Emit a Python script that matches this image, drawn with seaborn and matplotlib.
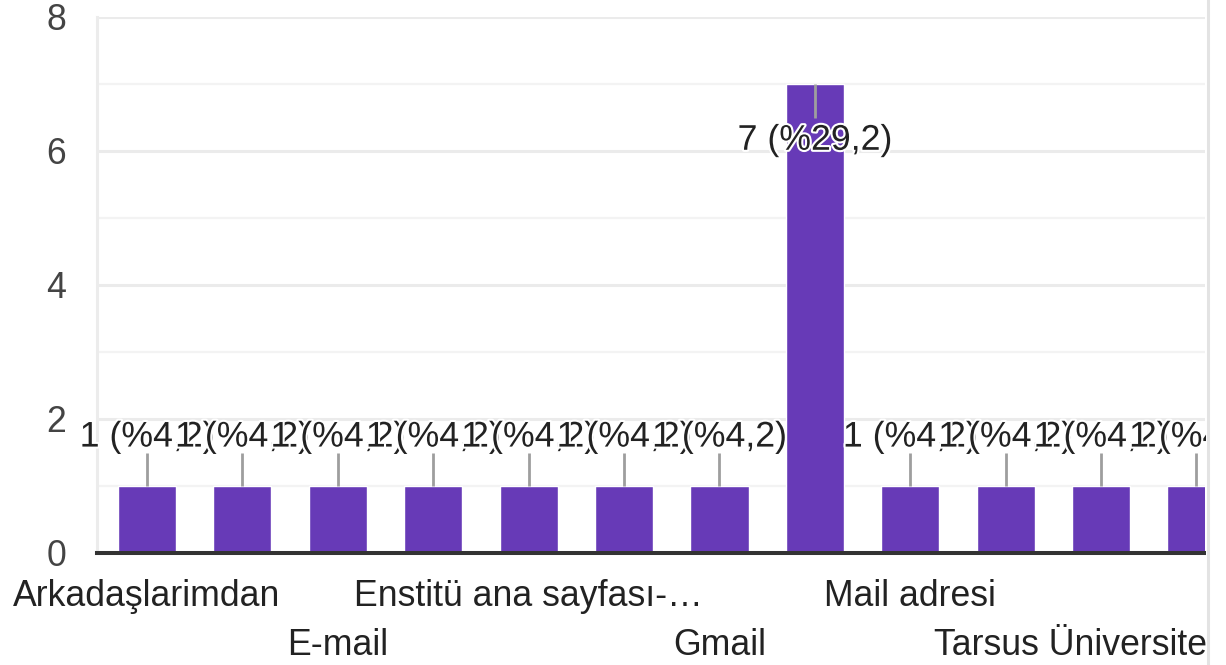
import matplotlib
matplotlib.use("Agg")
import matplotlib.pyplot as plt
import matplotlib.patheffects as pe
from matplotlib.patches import Rectangle
from matplotlib.lines import Line2D
import seaborn as sns
import pandas as pd
import numpy as np

# ---- data ----
tick_labels = ["Arkadaşlarimdan", "", "E-mail", "", "Enstitü ana sayfası-…", "",
               "Gmail", "", "Mail adresi", "", "Tarsus Üniversitesi…", ""]
counts = [1, 1, 1, 1, 1, 1, 1, 7, 1, 1, 1, 1]
total_responses = 24
y_ticks = [0, 2, 4, 6, 8]

sns.set_theme(style="white")
plt.rcParams['font.family'] = ['Liberation Sans', 'DejaVu Sans']

W, H = 1226, 665
fig = plt.figure(figsize=(W / 100, H / 100), dpi=100)
fig.patch.set_facecolor("white")
ax = fig.add_axes([97 / W, 112 / H, (1205 - 97) / W, (553 - 17) / H])

df = pd.DataFrame({"pos": np.arange(len(counts)), "count": counts})
sns.barplot(data=df, x="pos", y="count", color="#673AB7", saturation=1,
            width=0.61, ax=ax, zorder=2, errorbar=None)

ax.set_xlim(-0.524, 11.09)
ax.set_ylim(0, 8)
ax.set_xlabel("")
ax.set_ylabel("")

# grid
ax.set_yticks(y_ticks)
ax.set_yticks([1, 3, 5, 7], minor=True)
ax.set_yticklabels([str(t) for t in y_ticks])
ax.grid(which="major", axis="y", color="#ebebeb", lw=2.2)
ax.grid(which="minor", axis="y", color="#f3f3f3", lw=1.6)
ax.grid(which="major", axis="x", visible=False)
ax.set_axisbelow(True)

for s in ["top", "right"]:
    ax.spines[s].set_visible(False)
ax.spines["left"].set_color("#ececec")
ax.spines["left"].set_linewidth(2.2)
ax.spines["bottom"].set_color("#333333")
ax.spines["bottom"].set_linewidth(2.9)
ax.spines["bottom"].set_zorder(4)

# x tick labels in two alternating rows
shown = []
for i, lab in enumerate(tick_labels):
    if lab and (i // 2) % 2 == 1:
        shown.append("\n" + lab)
    else:
        shown.append(lab)
ax.set_xticks(np.arange(len(counts)))
ax.set_xticklabels(shown, linespacing=1.5)
ax.tick_params(axis="x", length=0, pad=19, labelsize=25.7, labelcolor="#222222")
ax.tick_params(axis="y", which="both", length=0, pad=22, labelsize=25.7, labelcolor="#444444")

# data labels with leader lines
ymax = ax.get_ylim()[1]
for i, v in enumerate(counts):
    pct = f"{v / total_responses * 100:.1f}".replace(".", ",")
    if v + 1.3 <= ymax:
        ty, l0, l1 = v + 0.73, v, v + 0.5
    else:
        ty, l0, l1 = v - 0.84, v, v - 0.5
    ax.plot([i, i], [l0, l1], color="#9e9e9e", lw=2.0, zorder=3,
            solid_capstyle="butt")
    ax.text(i, ty, f"{v} (%{pct})", ha="center", va="center", fontsize=25.7,
            color="#222222", zorder=5,
            path_effects=[pe.withStroke(linewidth=3.0, foreground="white")])

# clip region at right edge (chart is cut off there)
fig.patches.append(Rectangle((1206 / W, 0), 1 - 1206 / W, 1, transform=fig.transFigure,
                             facecolor="white", edgecolor="none", zorder=20))
fig.lines.append(Line2D([1208 / W, 1208 / W], [0, 1], transform=fig.transFigure,
                        color="#e3e3e3", lw=2.2, zorder=21))

fig.savefig("out.png", dpi=100, facecolor="white")
